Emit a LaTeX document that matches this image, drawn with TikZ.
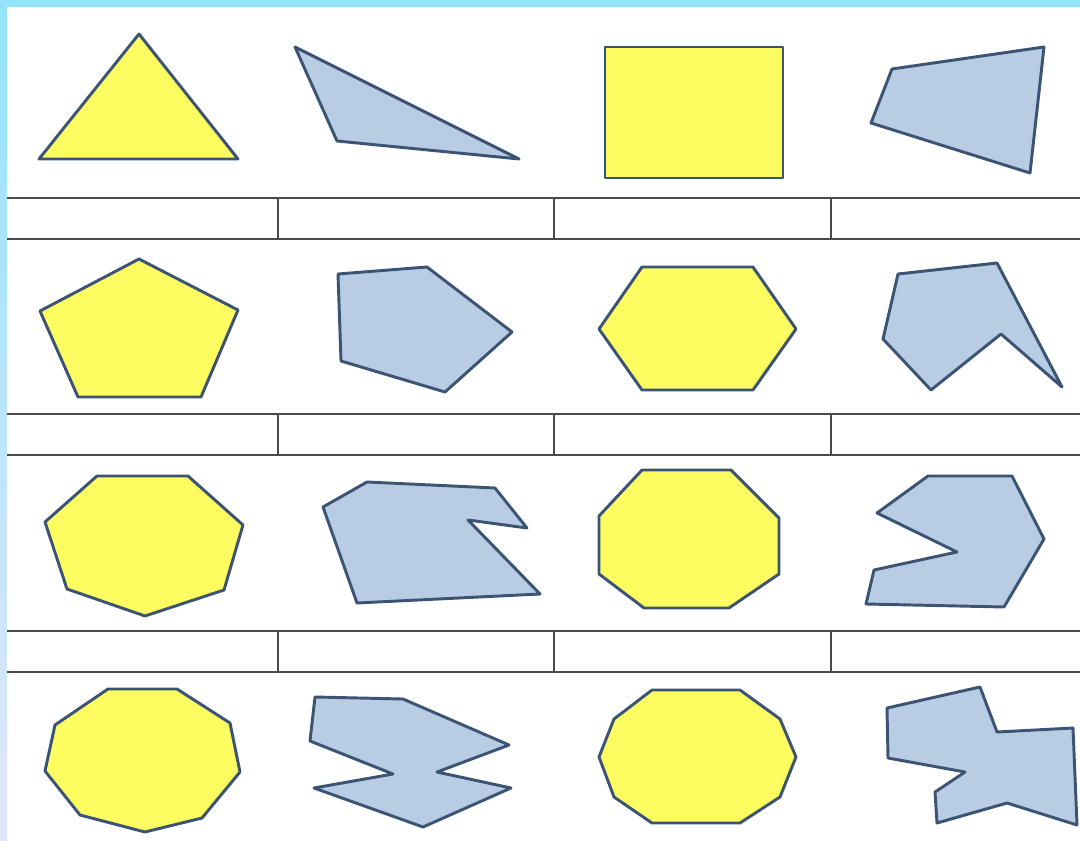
\documentclass[tikz,border=0pt]{standalone}
\definecolor{bandcyan}{HTML}{93E4FA}
\definecolor{bandlav}{HTML}{E2E6FA}
\definecolor{shyellow}{HTML}{FDFD62}
\definecolor{shblue}{HTML}{B8CCE4}
\definecolor{shedge}{HTML}{3C5473}
\definecolor{rule}{HTML}{4A4A4A}
\tikzset{
  yshape/.style={fill=shyellow,draw=shedge,line width=2.2pt,line join=round},
  bshape/.style={fill=shblue,draw=shedge,line width=2.2pt,line join=round},
  tabline/.style={draw=rule,line width=1.4pt}
}
\begin{document}
\begin{tikzpicture}[x=0.75pt,y=-0.75pt]
\useasboundingbox (0,0) rectangle (1080,841);
\fill[white] (0,0) rectangle (1080,841);
% frame bands
\shade[top color=bandcyan,bottom color=bandlav] (0,0) rectangle (7,841);
\fill[bandcyan] (0,0) rectangle (1080,7);
% table strips
\foreach \a/\b in {198/239,414/455,631/672}{
  \draw[tabline] (7,\a) -- (1080,\a);
  \draw[tabline] (7,\b) -- (1080,\b);
  \foreach \x in {278,554,831}{\draw[tabline] (\x,\a) -- (\x,\b);}
}
% Row 1
\draw[yshape] (139,34) -- (238,159) -- (39,159) -- cycle;
\draw[bshape] (295,47) -- (519,159) -- (337,141) -- cycle;
\draw[yshape] (605,47) rectangle (783,178);
\draw[bshape] (892,69) -- (1044,47) -- (1030,173) -- (871,123) -- cycle;
% Row 2
\draw[yshape] (139,259) -- (238,310) -- (201,397) -- (78,397) -- (40,311) -- cycle;
\draw[bshape] (338,274) -- (427,267) -- (512,332) -- (445,392) -- (341,361) -- cycle;
\draw[yshape] (642,267) -- (753,267) -- (796,329) -- (753,390) -- (642,390) -- (599,329) -- cycle;
\draw[bshape] (898,274) -- (997,263) -- (1062,387) -- (1001,334) -- (931,390) -- (883,339) -- cycle;
% Row 3
\draw[yshape] (97,476) -- (188,476) -- (243,525) -- (224,590) -- (145,616) -- (67,589) -- (45,522) -- cycle;
\draw[bshape] (323,507) -- (367,482) -- (495,488) -- (527,528) -- (468,520) -- (540,594) -- (357,603) -- cycle;
\draw[yshape] (642,470) -- (731,470) -- (779,518) -- (779,574) -- (729,608) -- (644,608) -- (599,574) -- (599,516) -- cycle;
\draw[bshape] (928,476) -- (1012,476) -- (1044,539) -- (1004,607) -- (866,604) -- (874,570) -- (957,552) -- (877,513) -- cycle;
% Row 4
\draw[yshape] (108,689) -- (177,689) -- (230,723) -- (240,772) -- (202,818) -- (145,832) -- (80,815) -- (45,771) -- (55,725) -- cycle;
\draw[bshape] (315,697) -- (403,699) -- (509,745) -- (437,772) -- (511,788) -- (423,827) -- (314,788) -- (393,774) -- (310,741) -- cycle;
\draw[yshape] (652,690) -- (740,690) -- (780,719) -- (796,757) -- (780,797) -- (740,823) -- (652,823) -- (614,797) -- (599,757) -- (614,719) -- cycle;
\draw[bshape] (887,708) -- (980,687) -- (997,732) -- (1073,728) -- (1077,825) -- (1007,803) -- (937,823) -- (935,792) -- (965,772) -- (888,758) -- cycle;
\end{tikzpicture}
\end{document}
